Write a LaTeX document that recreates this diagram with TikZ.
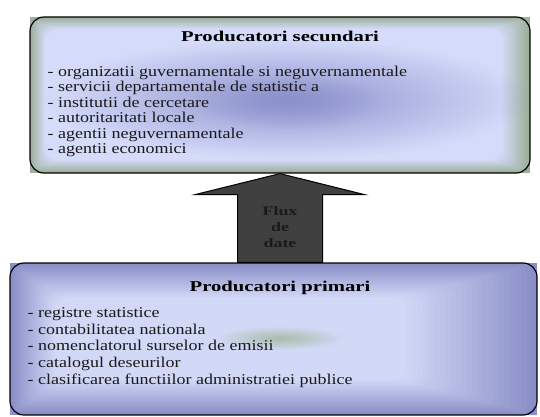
\documentclass[tikz,border=0pt]{standalone}
\usepackage{fontspec}
\setmainfont{Liberation Serif}[FakeStretch=1.2]
\newfontfamily\headfont{Liberation Serif}[FakeStretch=1.38]
\usepackage{xcolor}
\usepackage{tikz}
\usetikzlibrary{positioning,fadings}

\definecolor{secedge}{HTML}{9BAE97}
\definecolor{seccore}{HTML}{D5DCFA}
\definecolor{secblob}{HTML}{8A8ECB}
\definecolor{primedge}{HTML}{8A8EC7}
\definecolor{primcore}{HTML}{D2D9F7}
\definecolor{primblob}{HTML}{9CB493}
\definecolor{fluxfill}{HTML}{404040}

\tikzfading[name=softspot, inner color=transparent!5, outer color=transparent!100]

\begin{document}
\begin{tikzpicture}[x=1pt,y=-1pt,
  box/.style={draw,rounded corners=14pt,line width=1.2pt,inner sep=0pt},
  head/.style={font=\headfont\bfseries\fontsize{15}{18}\selectfont,inner sep=0pt},
  items/.style={align=left,inner sep=0pt,anchor=north west,text=black!90},
  flux/.style={draw,fill=fluxfill,line width=1pt,line join=miter},
  fluxtext/.style={font=\headfont\bfseries\fontsize{13}{16}\selectfont,align=center,inner sep=0pt,text=black!90}]
\useasboundingbox (0,0) rectangle (540,416);

% soft edges of both boxes
\foreach \k in {0,...,24}{
  \pgfmathsetmacro\mixt{\k/24}
  \pgfmathsetmacro\mixp{100*\mixt}
  \pgfmathsetmacro\mixr{14*\mixt}
  \fill[seccore!\mixp!secedge, rounded corners=\mixr pt]
    (30+15*\mixt,17+12*\mixt) rectangle (530-28*\mixt,173-13*\mixt);
  \fill[primcore!\mixp!primedge, rounded corners=\mixr pt]
    (10+45*\mixt,263+35*\mixt) rectangle (537-130*\mixt,415-35*\mixt);
}
\fill[secblob, path fading=softspot] (45,39) rectangle (529,159);
\fill[secblob, path fading=softspot, opacity=0.6] (200,75) rectangle (380,130);
\fill[primblob, path fading=softspot, opacity=0.8] (215,326) rectangle (345,350);

\node[box,minimum width=500pt,minimum height=156pt] (sec) at (280,95) {};
\node[box,minimum width=527pt,minimum height=152pt] (prim) at (273.5,339) {};
\coordinate (primtop) at (prim.north -| sec.south);

\node[head,anchor=base] (sectitle) at ([yshift=-25pt]sec.north) {Producatori secundari};
\node[head,anchor=base] (primtitle) at ([yshift=-29pt]primtop) {Producatori primari};

\node[items,font=\fontsize{15}{15.5}\selectfont] (seclist) at ([xshift=18pt,yshift=-49.4pt]sec.north west)
  {- organizatii guvernamentale si neguvernamentale\\
   - servicii departamentale de statistic a\\
   - institutii de cercetare\\
   - autoritaritati locale\\
   - agentii neguvernamentale\\
   - agentii economici};
\node[items,font=\fontsize{15}{16.7}\selectfont] (primlist) at ([xshift=18pt,yshift=-44.8pt]prim.north west)
  {- registre statistice\\
   - contabilitatea nationala\\
   - nomenclatorul surselor de emisii\\
   - catalogul deseurilor\\
   - clasificarea functiilor administratiei publice};

% block arrow from the lower box up to the upper one
\draw[flux] (sec.south) -- ++(84.5,21) -- ++(-42,0) coordinate (shaftr)
  -- (shaftr |- prim.north) -- ++(-85,0) coordinate (shaftl)
  -- (shaftl |- shaftr) -- ++(-42.5,0) -- cycle;
\node[fluxtext,below=32.5pt of sec.south] (fluxlbl) {Flux\\de\\date};
\end{tikzpicture}
\end{document}
